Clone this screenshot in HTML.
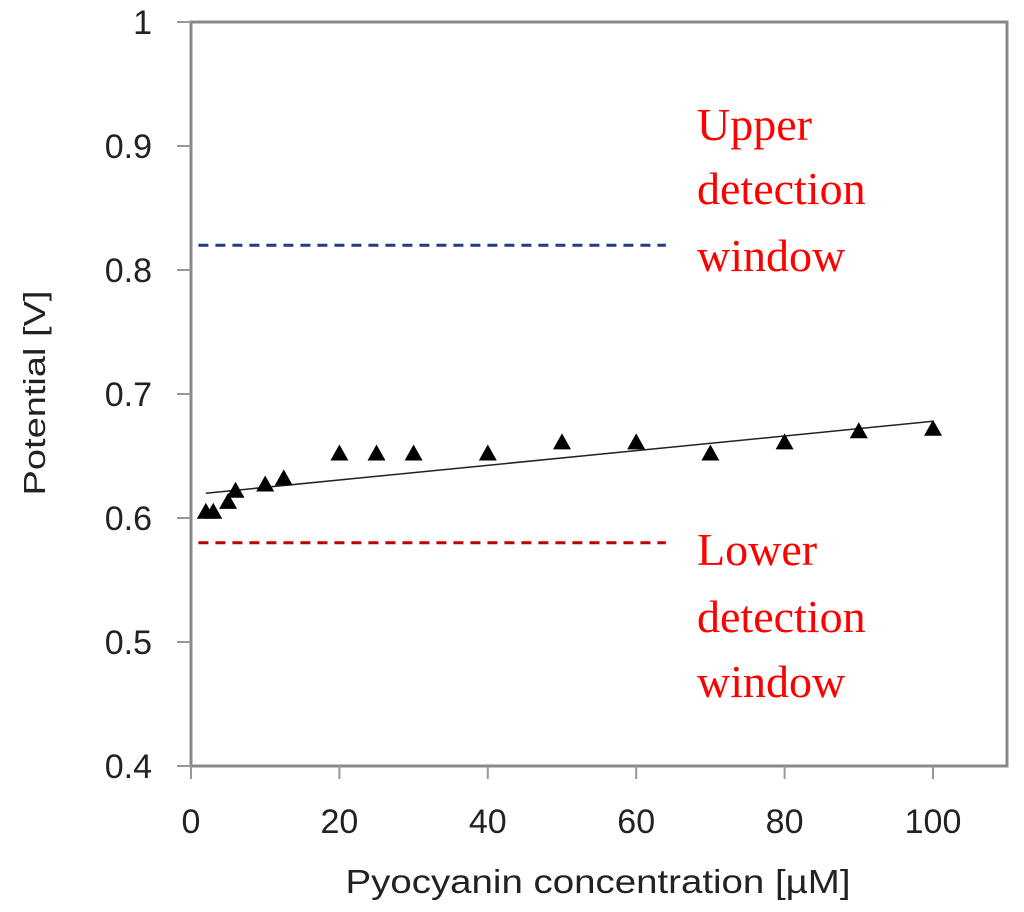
<!DOCTYPE html>
<html><head><meta charset="utf-8"><style>
body{margin:0;background:#fff;}
svg{display:block;font-family:"Liberation Sans",sans-serif;}
</style></head><body>
<svg id="chart" width="1024" height="912">
<rect x="191" y="22" width="816" height="744" fill="#fff" stroke="#888" stroke-width="3"/>
<g id="axes"></g>
<g id="marks"></g>
<text x="598" y="893" font-size="33" text-anchor="middle" fill="#222" textLength="505" lengthAdjust="spacingAndGlyphs">Pyocyanin concentration  [µM]</text>
<text transform="translate(45,393) rotate(-90)" font-size="31" text-anchor="middle" fill="#222" textLength="205" lengthAdjust="spacingAndGlyphs">Potential [V]</text>
<g font-family="Liberation Serif,serif" font-size="46" fill="#f00">
<text x="697" y="140">Upper</text>
<text x="697" y="204">detection</text>
<text x="697" y="271">window</text>
<text x="697" y="565">Lower</text>
<text x="697" y="632">detection</text>
<text x="697" y="697">window</text>
</g>
</svg>
<script>
const xs=[2,3,5,6,10,12.5,20,25,30,40,50,60,70,80,90,100];
const ys=[0.605,0.605,0.613,0.622,0.627,0.632,0.652,0.652,0.652,0.652,0.661,0.661,0.652,0.661,0.670,0.672];
const xTicks=[0,20,40,60,80,100];
const yTicks=[0.4,0.5,0.6,0.7,0.8,0.9,1];
const yTickLabels=["0.4","0.5","0.6","0.7","0.8","0.9","1"];
const trend=[[2,0.620],[100,0.678]];
const upperLimit=0.82, lowerLimit=0.58, limitXRange=[1,64];
const X=v=>191+v*7.42, Y=v=>766-(v-0.4)*1240;
const NS="http://www.w3.org/2000/svg";
const ax=document.getElementById('axes'), mk=document.getElementById('marks');
function mk_(t,a,p){const e=document.createElementNS(NS,t);for(const k in a)e.setAttribute(k,a[k]);p.appendChild(e);return e;}
xTicks.forEach(v=>{
 const l=mk_('line',{x1:X(v),x2:X(v),y1:766,y2:779,stroke:'#999','stroke-width':2},ax);
 
 
 const t=mk_('text',{x:X(v),y:833,'font-size':34,'text-anchor':'middle',fill:'#222'},ax);t.textContent=v;
 
 
});
yTicks.forEach((v,i)=>{
 const l=mk_('line',{x1:177,x2:191,y1:Y(v),y2:Y(v),stroke:'#999','stroke-width':2},ax);
 
 
 const t=mk_('text',{x:152,y:Y(v)+12,'font-size':34,'text-anchor':'end',fill:'#222'},ax);t.textContent=yTickLabels[i];
 
 
});
const u=mk_('line',{x1:X(limitXRange[0]),x2:X(limitXRange[1]),y1:Y(upperLimit),y2:Y(upperLimit),stroke:'#1f3f7f','stroke-width':3,'stroke-dasharray':'10 7'},mk);


const lo=mk_('line',{x1:X(limitXRange[0]),x2:X(limitXRange[1]),y1:Y(lowerLimit),y2:Y(lowerLimit),stroke:'#c00000','stroke-width':3,'stroke-dasharray':'10 7'},mk);


const tl=mk_('line',{x1:X(trend[0][0]),y1:Y(trend[0][1]),x2:X(trend[1][0]),y2:Y(trend[1][1]),stroke:'#222','stroke-width':1.5},mk);


xs.forEach((v,i)=>{
 const cx=X(v),cy=Y(ys[i]);
 const p=mk_('polygon',{points:`${cx},${cy-9} ${cx-9},${cy+7} ${cx+9},${cy+7}`,fill:'#000'},mk);
 
 
});
</script>
</body></html>
